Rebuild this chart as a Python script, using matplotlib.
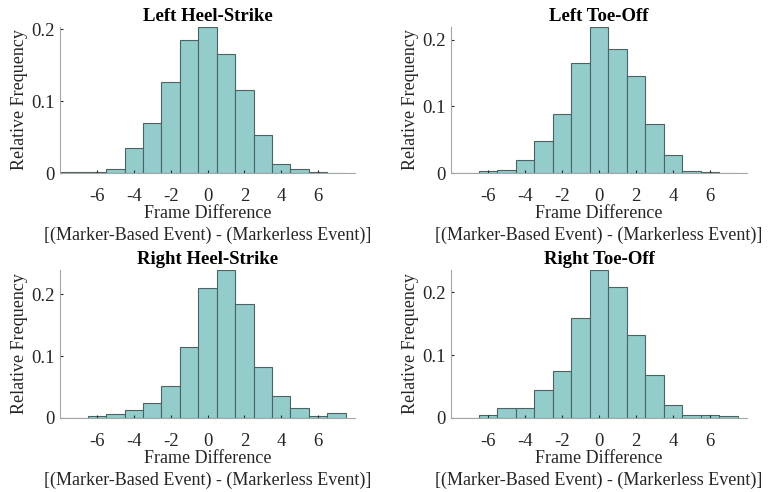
import matplotlib
matplotlib.use("Agg")
import matplotlib.pyplot as plt
import numpy as np

plt.rcParams['font.family'] = ['Liberation Serif', 'DejaVu Serif']
plt.rcParams['axes.unicode_minus'] = False

# frame difference bins (centres)
frames = np.arange(-8, 8)

titles = ['Left Heel-Strike', 'Left Toe-Off', 'Right Heel-Strike', 'Right Toe-Off']

left_hs = [0.001, 0.001, 0.001, 0.006, 0.035, 0.069, 0.126, 0.185, 0.203,
           0.166, 0.115, 0.053, 0.012, 0.006, 0.0015, 0.0005]
left_to = [0.0, 0.0005, 0.003, 0.005, 0.0195, 0.0485, 0.0885, 0.165, 0.219,
           0.1855, 0.146, 0.0735, 0.0275, 0.0035, 0.001, 0.0]
right_hs = [0.0005, 0.0005, 0.004, 0.007, 0.0135, 0.025, 0.051, 0.1146, 0.2097,
            0.2395, 0.184, 0.082, 0.035, 0.0157, 0.003, 0.0076]
right_to = [0.0, 0.0005, 0.005, 0.016, 0.016, 0.045, 0.074, 0.1586, 0.235,
            0.208, 0.132, 0.069, 0.020, 0.005, 0.005, 0.003]

data = [left_hs, left_to, right_hs, right_to]

# axes boxes in pixels (left, bottom, right, top) for a 774x492 figure
W, H = 774, 492
boxes = [(60, 173, 355, 27), (451, 173, 747, 27),
         (60, 418, 355, 270), (451, 418, 747, 270)]

fig = plt.figure(figsize=(7.74, 4.92), dpi=100)

for title, vals, (l, b, r, t) in zip(titles, data, boxes):
    ax = fig.add_axes([l / W, 1 - b / H, (r - l) / W, (b - t) / H])
    ax.bar(frames, vals, width=1.0, color='#93cccb', edgecolor='#4a6464', linewidth=0.8)
    ax.set_xlim(-8, 8)
    ax.set_ylim(0, max(vals))
    ax.set_xticks([-6, -4, -2, 0, 2, 4, 6])
    ax.set_yticks([0, 0.1, 0.2])
    ax.set_yticklabels(['0', '0.1', '0.2'])
    ax.tick_params(direction='in', length=2, labelsize=13.5, colors='#262626', pad=4)
    ax.tick_params(axis='x', pad=11)
    for side in ['top', 'right']:
        ax.spines[side].set_visible(False)
    for side in ['left', 'bottom']:
        ax.spines[side].set_color('#a6a6a6')
        ax.spines[side].set_linewidth(0.8)
    ax.set_title(title, fontsize=13.5, fontweight='bold', pad=4)
    ax.set_ylabel('Relative Frequency', fontsize=13, color='#262626', labelpad=2)
    ax.set_xlabel('Frame Difference\n[(Marker-Based Event) - (Markerless Event)]',
                  fontsize=13, color='#262626', labelpad=0, linespacing=1.3)

fig.savefig('out.png', dpi=100)
